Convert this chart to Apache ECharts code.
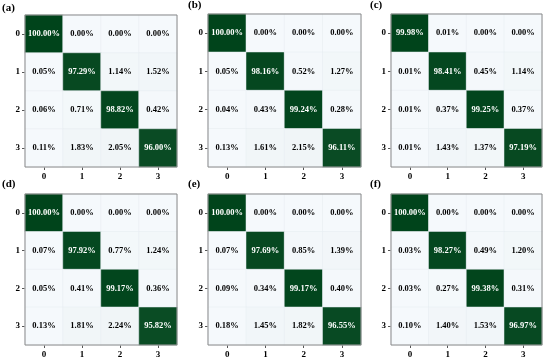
<!DOCTYPE html>
<html><head><meta charset="utf-8">
<script src="https://cdn.jsdelivr.net/npm/echarts@6/dist/echarts.min.js"></script>
<style>html,body{margin:0;padding:0;background:#fff}#c{width:550px;height:359px}</style>
</head><body><div id="c"></div>
<script>
const classes = ['0','1','2','3'];
const panelNames = ['(a)','(b)','(c)','(d)','(e)','(f)'];
const matA = [[100.00,0.00,0.00,0.00],[0.05,97.29,1.14,1.52],[0.06,0.71,98.82,0.42],[0.11,1.83,2.05,96.00]];
const matB = [[100.00,0.00,0.00,0.00],[0.05,98.16,0.52,1.27],[0.04,0.43,99.24,0.28],[0.13,1.61,2.15,96.11]];
const matC = [[99.98,0.01,0.00,0.00],[0.01,98.41,0.45,1.14],[0.01,0.37,99.25,0.37],[0.01,1.43,1.37,97.19]];
const matD = [[100.00,0.00,0.00,0.00],[0.07,97.92,0.77,1.24],[0.05,0.41,99.17,0.36],[0.13,1.81,2.24,95.82]];
const matE = [[100.00,0.00,0.00,0.00],[0.07,97.69,0.85,1.39],[0.09,0.34,99.17,0.40],[0.18,1.45,1.82,96.55]];
const matF = [[100.00,0.00,0.00,0.00],[0.03,98.27,0.49,1.20],[0.03,0.27,99.38,0.31],[0.10,1.40,1.53,96.97]];
const mats = [matA, matB, matC, matD, matE, matF];

const layout = [
  {left:25, top:15, width:152, height:152},
  {left:208, top:14, width:153, height:153},
  {left:391, top:14, width:151, height:153},
  {left:25, top:194, width:152, height:151},
  {left:208, top:194, width:153, height:151},
  {left:391, top:194, width:151, height:151}
];
const labelPos = [[2,3],[188,0],[370,0],[2,179],[188,179],[370,179]];
const font = "'Liberation Serif','Times New Roman',serif";

const grids=[], xAxes=[], yAxes=[], series=[], graphics=[];
mats.forEach((m,i)=>{
  const L = layout[i];
  grids.push({left:L.left, top:L.top, width:L.width, height:L.height, show:true, borderColor:'#8a8a8a', borderWidth:1, backgroundColor:'transparent', z:10});
  const axCommon = {
    type:'category', data:classes, gridIndex:i,
    axisLine:{show:false},
    axisTick:{show:true, alignWithLabel:true, length:3, lineStyle:{color:'#555'}},
    axisLabel:{fontFamily:font, fontWeight:'bold', fontSize:9, color:'#000', margin:5},
    splitLine:{show:false}
  };
  xAxes.push(Object.assign({}, axCommon, {position:'bottom'}));
  yAxes.push(Object.assign({}, axCommon, {inverse:true, position:'left'}));
  const data=[];
  m.forEach((row,r)=>row.forEach((v,c)=>{
    data.push({value:[c,r,v], label:{color: v>50 ? '#ffffff' : '#000000'}});
  }));
  series.push({
    type:'heatmap', xAxisIndex:i, yAxisIndex:i, data:data,
    itemStyle:{borderColor:'#e6edf0', borderWidth:0.5},
    label:{show:true, fontFamily:font, fontWeight:'bold', fontSize:8.5,
      formatter:p=>p.value[2].toFixed(2)+'%'},
    emphasis:{disabled:true}
  });
  graphics.push({type:'text', left:labelPos[i][0], top:labelPos[i][1],
    style:{text:panelNames[i], font:"bold 11px 'Liberation Serif', serif", fill:'#000'}});
});

const chart = echarts.init(document.getElementById('c'), null, {renderer:'canvas'});
chart.setOption({
  animation:false,
  grid:grids, xAxis:xAxes, yAxis:yAxes, series:series,
  visualMap:{show:false, min:0, max:100, dimension:2, seriesIndex:[0,1,2,3,4,5],
    inRange:{color:['#f5f9fc','#00441b']}},
  graphic:graphics
});
</script></body></html>
